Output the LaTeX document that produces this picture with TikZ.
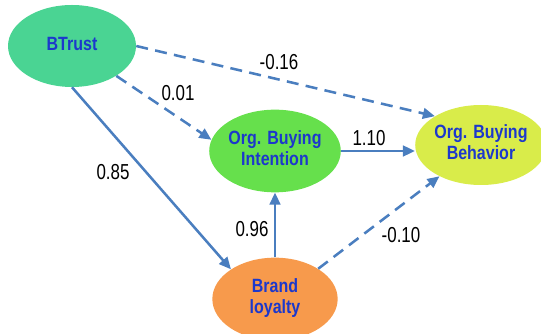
\documentclass[tikz,border=0pt]{standalone}
\usepackage{fontspec}
\setmainfont{Liberation Sans}
\usepackage{graphicx}
\usetikzlibrary{arrows.meta,shapes.geometric}
\definecolor{edge}{HTML}{4A7EBF}
\definecolor{vartext}{HTML}{1C38CC}
\definecolor{trustfill}{HTML}{4AD493}
\definecolor{intentfill}{HTML}{66E04C}
\definecolor{behavfill}{HTML}{D9EC4A}
\definecolor{loyalfill}{HTML}{F79A4C}
\newcommand{\tallvar}[1]{\scalebox{1}[1.2]{\begin{tabular}{@{}c@{}}#1\end{tabular}}}
\newcommand{\tallnum}[1]{\scalebox{1}[1.28]{#1}}
\tikzset{
  var/.style={ellipse,inner sep=0pt,text=vartext,font=\fontsize{12}{12.7}\selectfont\bfseries},
  lab/.style={font=\fontsize{12.7}{14}\selectfont,inner sep=0pt},
  arr/.style={-{Triangle[length=9pt,width=8pt]},draw=edge,line width=1.9pt},
  darr/.style={arr,dash pattern=on 9pt off 5.5pt},
}
\begin{document}
\begin{tikzpicture}[x=0.75pt,y=-0.75pt]
  \useasboundingbox (0,0) rectangle (541,334);
  % latent variables
  \node[var,fill=trustfill,minimum width=96pt,minimum height=61.5pt] (btrust) at (72,46) {\tallvar{BTrust}};
  \node[var,fill=intentfill,minimum width=94pt,minimum height=62pt] (intent) at (275,151) {\tallvar{Org. Buying\\Intention}};
  \node[var,fill=behavfill,minimum width=90pt,minimum height=60pt] (behav) at (481,145) {\tallvar{Org. Buying\\Behavior}};
  \node[var,fill=loyalfill,minimum width=94pt,minimum height=62pt] (loyal) at (275,299) {\tallvar{Brand\\loyalty}};
  % paths
  \draw[darr] (btrust.east) -- (behav.148);
  \draw[darr] (btrust.-34) -- (intent.170);
  \draw[arr] (btrust.south) -- (loyal.146);
  \draw[arr] (intent.east) -- (intent.east -| behav.west);
  \draw[arr] (loyal.north) -- (intent.south);
  \draw[darr] (loyal.35) -- (behav.217);
  % coefficients
  \node[lab] (c016) at (279,62) {\tallnum{-0.16}};
  \node[lab] (c001) at (178,93) {\tallnum{0.01}};
  \node[lab] (c110) at (369,138) {\tallnum{1.10}};
  \node[lab] (c085) at (113,172) {\tallnum{0.85}};
  \node[lab] (c096) at (252,229) {\tallnum{0.96}};
  \node[lab] (c010) at (401,235) {\tallnum{-0.10}};
\end{tikzpicture}
\end{document}
